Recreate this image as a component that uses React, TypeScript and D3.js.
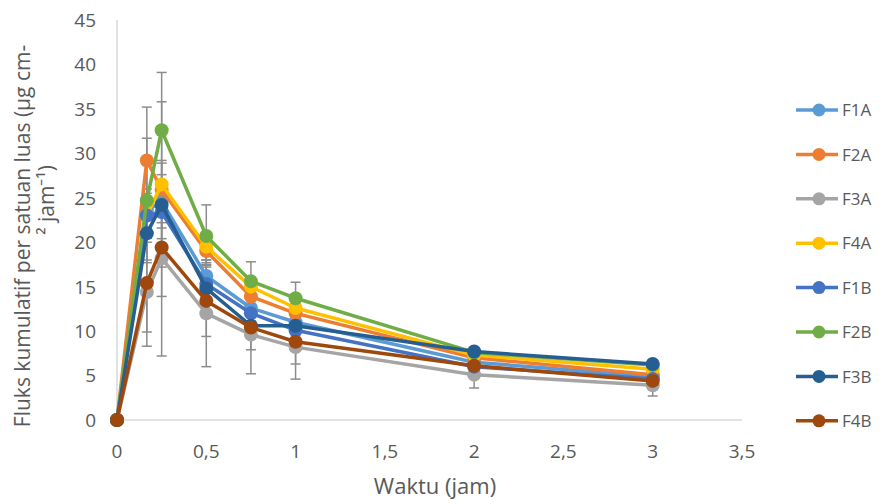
import * as d3 from 'd3';

// time points (jam)
const times = [0, 0.167, 0.25, 0.5, 0.75, 1, 2, 3];

const seriesNames = ['F1A', 'F2A', 'F3A', 'F4A', 'F1B', 'F2B', 'F3B', 'F4B'];
const seriesColors = ['#5B9BD5', '#ED7D31', '#A5A5A5', '#FFC000', '#4472C4', '#70AD47', '#255E91', '#9E480E'];

const f1a = [0, 23.5, 24.6, 16.2, 12.6, 11.0, 6.5, 4.9];
const f2a = [0, 29.2, 25.9, 19.0, 13.9, 12.0, 7.0, 5.1];
const f3a = [0, 14.4, 18.2, 12.0, 9.6, 8.2, 5.1, 3.9];
const f4a = [0, 23.0, 26.5, 19.5, 15.0, 12.6, 7.3, 5.7];
const f1b = [0, 23.0, 23.4, 15.3, 12.0, 10.1, 6.0, 4.6];
const f2b = [0, 24.7, 32.6, 20.7, 15.6, 13.7, 7.6, 6.2];
const f3b = [0, 21.0, 24.2, 14.8, 10.6, 10.6, 7.7, 6.3];
const f4b = [0, 15.4, 19.4, 13.4, 10.4, 8.8, 6.1, 4.4];

// standard deviation (error bars)
const e1a = [0, 2, 3, 1.5, 1.5, 1.2, 1, 0.8];
const e2a = [0, 6, 3, 1.5, 2, 1.5, 1, 0.8];
const e3a = [0, 6.1, 11, 6, 4.4, 3.6, 1.5, 1.2];
const e4a = [0, 3, 9.3, 1.5, 1, 1, 0.8, 0.8];
const e1b = [0, 2, 3, 1, 1.5, 1.2, 1, 0.8];
const e2b = [0, 7, 6.5, 3.5, 2.2, 1.8, 0.5, 0.5];
const e3b = [0, 3, 2, 1.5, 1, 1, 0.4, 0.4];
const e4b = [0, 5.5, 5.5, 4, 2.5, 2.5, 1, 0.8];

const allValues = [f1a, f2a, f3a, f4a, f1b, f2b, f3b, f4b];
const allErrors = [e1a, e2a, e3a, e4a, e1b, e2b, e3b, e4b];

const xTicks = [0, 0.5, 1, 1.5, 2, 2.5, 3, 3.5];
const yTicks = [0, 5, 10, 15, 20, 25, 30, 35, 40, 45];

const font = "'Open Sans', sans-serif";
const textColor = '#595959';

const App = () => {
  const width = 885;
  const height = 504;
  const margin = { top: 20, right: 143, bottom: 84, left: 117 };

  const x = d3.scaleLinear().domain([0, 3.5]).range([margin.left, width - margin.right]);
  const y = d3.scaleLinear().domain([0, 45]).range([height - margin.bottom, margin.top]);

  const line = d3.line<number>()
    .x((d, i) => x(times[i]))
    .y(d => y(d));

  const fmt = (d: number) => String(d).replace('.', ',');

  return (
    <svg width={width} height={height} style={{ position: 'absolute', left: 0, top: 0, background: '#fff' }}>
      {/* axes */}
      <line x1={x(0)} x2={x(3.5)} y1={y(0)} y2={y(0)} stroke="#d9d9d9" strokeWidth={1.5} />
      <line x1={x(0)} x2={x(0)} y1={y(0)} y2={y(45)} stroke="#d9d9d9" strokeWidth={1.5} />

      {yTicks.map(t => (
        <text key={t} x={x(0) - 21} y={y(t)} dy="0.36em" textAnchor="end"
          fontFamily={font} fontSize={19} fill={textColor}>{t}</text>
      ))}
      {xTicks.map(t => (
        <text key={t} x={x(t)} y={y(0) + 38} textAnchor="middle"
          fontFamily={font} fontSize={19} fill={textColor}>{fmt(t)}</text>
      ))}

      <text x={435} y={494} textAnchor="middle"
        fontFamily={font} fontSize={22} fill={textColor}>Waktu (jam)</text>

      <text transform={`translate(30, 236) rotate(-90)`} textAnchor="middle"
        fontFamily={font} fontSize={21} fill={textColor}>Fluks kumulatif per satuan luas (µg cm-</text>
      <text transform={`translate(54, 200) rotate(-90)`} textAnchor="middle"
        fontFamily={font} fontSize={21} fill={textColor}>² jam⁻¹)</text>

      {/* error bars */}
      {allValues.map((vals, s) => (
        <g key={'e' + s} stroke="#8c8c8c" strokeWidth={1.5}>
          {vals.map((v, i) => {
            const err = allErrors[s][i];
            if (!err) return null;
            const cx = x(times[i]);
            return (
              <g key={i}>
                <line x1={cx} x2={cx} y1={y(v + err)} y2={y(v - err)} />
                <line x1={cx - 5} x2={cx + 5} y1={y(v + err)} y2={y(v + err)} />
                <line x1={cx - 5} x2={cx + 5} y1={y(v - err)} y2={y(v - err)} />
              </g>
            );
          })}
        </g>
      ))}

      {/* series */}
      {allValues.map((vals, s) => (
        <g key={'s' + s}>
          <path d={line(vals) || ''} fill="none" stroke={seriesColors[s]} strokeWidth={3.5} strokeLinejoin="round" />
          {vals.map((v, i) => (
            <circle key={i} cx={x(times[i])} cy={y(v)} r={7} fill={seriesColors[s]} />
          ))}
        </g>
      ))}

      {/* legend */}
      {seriesNames.map((n, i) => {
        const ly = 110 + i * 44.4;
        return (
          <g key={n}>
            <line x1={796} x2={838} y1={ly} y2={ly} stroke={seriesColors[i]} strokeWidth={3.5} />
            <circle cx={819} cy={ly} r={6.5} fill={seriesColors[i]} />
            <text x={842} y={ly} dy="0.36em" fontFamily={font} fontSize={17} fill={textColor}>{n}</text>
          </g>
        );
      })}
    </svg>
  );
};

export default App;
